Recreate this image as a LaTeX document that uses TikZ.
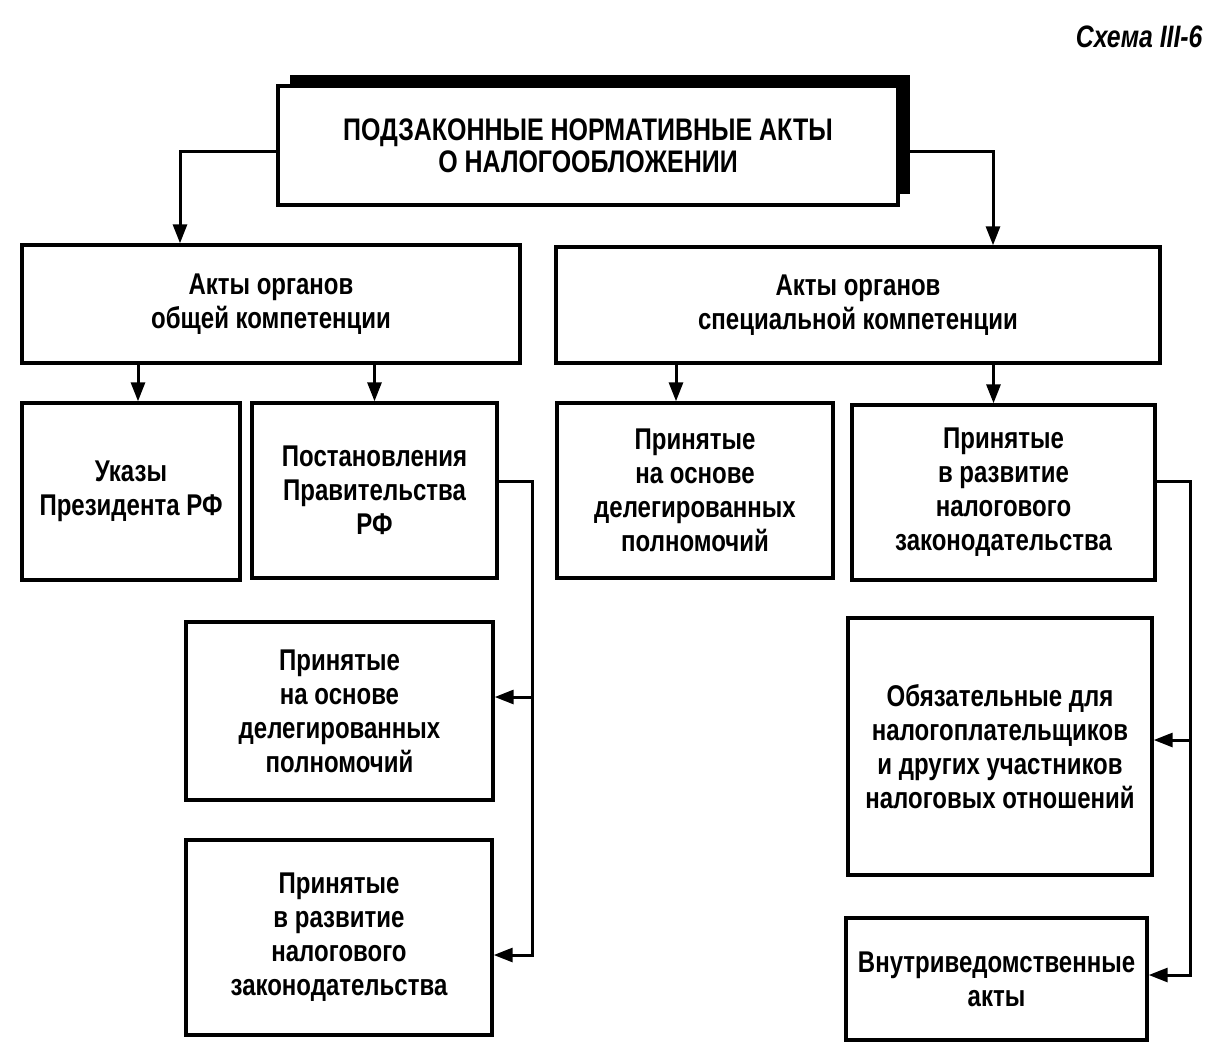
\documentclass[tikz,border=0pt]{standalone}
\usepackage{fontspec}
\setmainfont{Liberation Sans}[FakeStretch=0.80]
\usetikzlibrary{arrows.meta}
\usetikzlibrary{shadows}

\begin{document}
\begin{tikzpicture}[x=0.5pt,y=-0.5pt,>={Triangle[length=9.5pt,width=7pt]},line width=1.5pt]
		\tikzstyle{box}=[rectangle,draw,line width=1.7pt,fill=white,align=center,inner sep=0pt,
			font=\fontsize{15}{17}\selectfont\bfseries];
		\tikzstyle{headbox}=[box,font=\fontsize{15.6}{16}\selectfont\bfseries,
			general shadow={shadow xshift=6pt,shadow yshift=5.5pt,fill=black}];
		\useasboundingbox (0,0) rectangle (1214,1061);

		\node[anchor=north east,inner sep=0pt,font=\fontsize{15.5}{17}\selectfont\bfseries\itshape](cap) at (1204,24){Схема III-6};

		\node[headbox,minimum width=310pt,minimum height=59.5pt](0) at (588,145.5){ПОДЗАКОННЫЕ НОРМАТИВНЫЕ АКТЫ\\О НАЛОГООБЛОЖЕНИИ};

		\node[box,minimum width=249pt,minimum height=59pt](10) at (271,304){Акты органов\\общей компетенции};
		\node[box,minimum width=302pt,minimum height=58pt](20) at (858,305){Акты органов\\специальной компетенции};
		\draw[->]([yshift=-3pt]0.west)-|([xshift=-45.5pt]10.north);
		\draw[->]([yshift=-3pt]0.east)-|([xshift=67.5pt]20.north);

		\node[box,minimum width=109pt,minimum height=88.5pt](11) at (131,491.5){Указы\\Президента РФ};
		\node[box,minimum width=122.5pt,minimum height=87.5pt](12) at (374.5,490.5){Постановления\\Правительства\\РФ};
		\node[box,minimum width=153.5pt,minimum height=89pt](13) at (339.5,711){Принятые\\на основе\\делегированных\\полномочий};
		\node[box,minimum width=153pt,minimum height=97.5pt](14) at (339,937.5){Принятые\\в развитие\\налогового\\законодательства};
		\draw[->]([xshift=3.5pt]11.north|-10.south)--([xshift=3.5pt]11.north);
		\draw[->](12.north|-10.south)--(12.north);

		\node[box,minimum width=138pt,minimum height=87.5pt](21) at (695,490.5){Принятые\\на основе\\делегированных\\полномочий};
		\node[box,minimum width=151.5pt,minimum height=87.5pt](22) at (1003.5,492.5){Принятые\\в развитие\\налогового\\законодательства};
		\node[box,minimum width=152pt,minimum height=128.5pt](23) at (1000,746.5){Обязательные для\\налогоплательщиков\\и других участников\\налоговых отношений};
		\node[box,minimum width=150.5pt,minimum height=61pt](24) at (996.5,979){Внутриведомственные\\акты};
		\draw[->]([xshift=-9.5pt]21.north|-20.south)--([xshift=-9.5pt]21.north);
		\draw[->]([xshift=-5pt]22.north|-20.south)--([xshift=-5pt]22.north);

		% left branch
		\coordinate(lbus) at (532,0);
		\coordinate(13in) at ([yshift=7pt]13.east);
		\coordinate(14in) at ([yshift=-8.75pt]14.east);
		\draw[->]([yshift=4.75pt]12.east)-|(lbus|-14in)--(14in);
		\draw[->](lbus|-13in)--(13in);

		% right branch
		\coordinate(rbus) at (1190,0);
		\coordinate(23in) at ([yshift=3.25pt]23.east);
		\coordinate(24in) at ([yshift=2pt]24.east);
		\draw[->]([yshift=5.75pt]22.east)-|(rbus|-24in)--(24in);
		\draw[->](rbus|-23in)--(23in);
	\end{tikzpicture}
\end{document}
